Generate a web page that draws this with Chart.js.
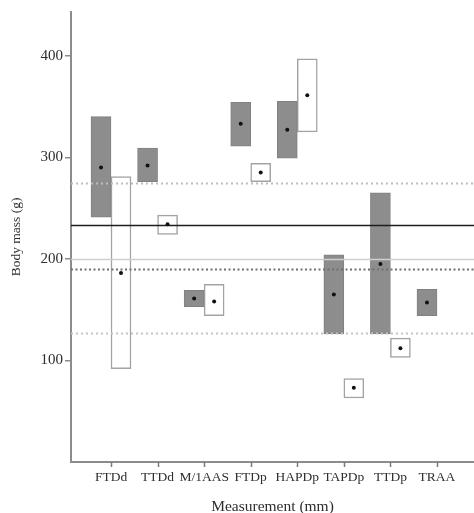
<!DOCTYPE html>
<html>
<head>
<meta charset="utf-8">
<script src="https://cdn.jsdelivr.net/npm/chart.js@4"></script>
<style>
  html, body { margin: 0; padding: 0; background: #fff; }
  #wrap { width: 474px; height: 513px; }
</style>
</head>
<body>
<div id="wrap"><canvas id="c" width="474" height="513"></canvas></div>
<script>
// Measurements on the x axis
const labels = ['FTDd', 'TTDd', 'M/1AAS', 'FTDp', 'HAPDp', 'TAPDp', 'TTDp', 'TRAA'];

// Grey ranges (low, high) with their means
const greyLow  = [241, 276, 153, 311, 299, 126, 126, 144];
const greyHigh = [340, 309, 169, 354, 355, 204, 265, 170];
const greyMean = [290, 292, 161, 333, 327, 165, 195, 157];

// Open ranges (low, high) with their means
const openLow  = [92, 224, 144, 276, 325, 63, 103, null];
const openHigh = [281, 243, 175, 294, 397, 82, 122, null];
const openMean = [186, 234, 158, 285, 361, 73, 112, null];

// Y axis tick values
const yTicks = [100, 200, 300, 400];

// Horizontal reference levels
const solidLevel = 233;
const paleLevel = 200;
const dottedLevels = [275, 190, 127];

const toRange = (lo, hi) => labels.map((_, i) =>
  ({ x: i + 1, y: (lo[i] == null ? null : [lo[i], hi[i]]) }));

const axisGrey = '#8c8c8c';
const textCol = '#2e2e2e';

const refLines = {
  id: 'refLines',
  afterDatasetsDraw(chart) {
    const { ctx, chartArea: a, scales: { y } } = chart;
    const hline = (v, color, width, dash) => {
      const py = Math.round(y.getPixelForValue(v)) + 0.5;
      ctx.save();
      ctx.strokeStyle = color;
      ctx.lineWidth = width;
      ctx.setLineDash(dash);
      ctx.beginPath();
      ctx.moveTo(a.left, py);
      ctx.lineTo(a.right, py);
      ctx.stroke();
      ctx.restore();
    };
    hline(paleLevel, '#cfcfcf', 1.5, []);
    hline(dottedLevels[0], '#bdbdbd', 2, [2, 3]);
    hline(dottedLevels[1], '#707070', 2, [2, 2.5]);
    hline(dottedLevels[2], '#c4c4c4', 2, [2, 3]);
    hline(solidLevel, '#1e1e1e', 1.5, []);

    // mean markers at the centre of each range
    const means = [greyMean, openMean];
    chart.data.datasets.forEach((ds, di) => {
      const meta = chart.getDatasetMeta(di);
      meta.data.forEach((bar, i) => {
        const m = means[di][i];
        if (m == null) return;
        ctx.save();
        ctx.fillStyle = '#111';
        ctx.beginPath();
        ctx.arc(bar.x, y.getPixelForValue(m), 2, 0, Math.PI * 2);
        ctx.fill();
        ctx.restore();
      });
    });
  },
  afterDraw(chart) {
    // category tick marks below the x axis
    const { ctx, chartArea: a, scales: { x } } = chart;
    ctx.save();
    ctx.strokeStyle = '#7a7a7a';
    ctx.lineWidth = 1.5;
    ctx.setLineDash([]);
    labels.forEach((_, i) => {
      const px = Math.round(x.getPixelForValue(i + 1)) + 0.5;
      ctx.beginPath();
      ctx.moveTo(px, a.bottom);
      ctx.lineTo(px, a.bottom + 5);
      ctx.stroke();
    });
    ctx.restore();
  }
};

new Chart(document.getElementById('c'), {
  type: 'bar',
  data: {
    datasets: [
      {
        data: toRange(greyLow, greyHigh),
        backgroundColor: '#8d8d8d',
        borderColor: '#808080',
        borderWidth: 1,
        borderSkipped: false,
        barThickness: 20
      },
      {
        data: toRange(openLow, openHigh),
        backgroundColor: '#ffffff',
        borderColor: '#a3a3a3',
        borderWidth: 1.5,
        borderSkipped: false,
        barThickness: 20
      }
    ]
  },
  options: {
    responsive: false,
    animation: false,
    events: [],
    layout: { padding: { top: 12, right: 0, left: 0, bottom: 0 } },
    plugins: { legend: { display: false }, tooltip: { enabled: false } },
    scales: {
      x: {
        type: 'linear',
        min: 0.141,
        max: 8.795,
        offset: false,
        afterFit: s => { s.height = 51; },
        afterBuildTicks: s => { s.ticks = labels.map((_, i) => ({ value: i + 1 })); },
        grid: { offset: false, drawOnChartArea: false, drawTicks: false, color: axisGrey },
        border: { display: true, color: axisGrey, width: 2 },
        ticks: {
          autoSkip: false,
          maxRotation: 0,
          padding: 7,
          color: textCol,
          font: { family: '"Liberation Serif", "Times New Roman", serif', size: 13.5 },
          callback: v => labels[v - 1]
        },
        title: {
          display: true,
          text: 'Measurement (mm)',
          color: textCol,
          padding: { top: 0, bottom: -2 },
          font: { family: '"Liberation Serif", "Times New Roman", serif', size: 15.5, lineHeight: 1 }
        }
      },
      y: {
        min: 0,
        max: 443,
        afterFit: s => { s.width = 71; },
        afterBuildTicks: s => { s.ticks = yTicks.map(v => ({ value: v })); },
        grid: { drawOnChartArea: false, drawTicks: true, tickLength: 6, color: axisGrey, lineWidth: 1.5 },
        border: { display: true, color: axisGrey, width: 2 },
        ticks: {
          padding: 2,
          color: textCol,
          font: { family: '"Liberation Serif", "Times New Roman", serif', size: 15 }
        },
        title: {
          display: true,
          text: 'Body mass (g)',
          color: textCol,
          padding: { top: 10, bottom: 0 },
          font: { family: '"Liberation Serif", "Times New Roman", serif', size: 13.5, lineHeight: 1 }
        }
      }
    }
  },
  plugins: [refLines]
});
</script>
</body>
</html>
